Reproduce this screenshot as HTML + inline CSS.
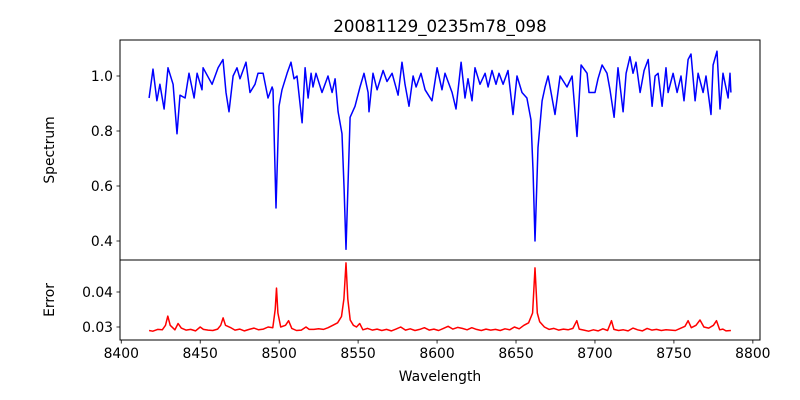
<!DOCTYPE html>
<html><head><meta charset="utf-8"><style>
body{margin:0;background:#fff;}
svg{display:block;font-family:"DejaVu Sans","Liberation Sans",sans-serif;}
</style></head><body>
<svg id="chart" width="800" height="400" viewBox="0 0 800 400">
<rect width="800" height="400" fill="#fff"/>
<text x="440" y="32" text-anchor="middle" font-size="16.7">20081129_0235m78_098</text>
<text transform="translate(54,150) rotate(-90)" text-anchor="middle" font-size="13.9">Spectrum</text>
<text transform="translate(54,300) rotate(-90)" text-anchor="middle" font-size="13.9">Error</text>
<text x="440" y="381" text-anchor="middle" font-size="13.9">Wavelength</text>
<g id="g"></g>
</svg>
<script>
const specWave=[8417.6,8420.1,8422.6,8424.5,8427.1,8429.6,8432.8,8435.3,8437.2,8440.4,8442.9,8446.1,8448.0,8451.1,8451.8,8457.5,8461.3,8464.4,8466.3,8468.2,8470.8,8473.3,8475.2,8479.0,8481.5,8484.7,8486.6,8489.8,8492.9,8495.5,8496.1,8498.0,8499.9,8501.8,8505.0,8507.5,8509.4,8511.3,8514.5,8516.4,8518.3,8520.2,8521.4,8523.3,8527.1,8530.9,8533.5,8535.4,8537.3,8539.8,8541.1,8542.3,8544.9,8548.0,8551.2,8553.7,8556.3,8556.9,8559.4,8562.0,8565.8,8568.3,8571.5,8575.3,8577.8,8579.7,8582.2,8584.8,8586.7,8589.8,8592.4,8596.8,8600.0,8603.1,8605.0,8609.5,8612.0,8615.2,8617.7,8619.6,8622.1,8624.0,8627.2,8630.4,8632.3,8634.8,8637.3,8639.2,8641.8,8644.9,8648.1,8650.6,8653.8,8656.9,8659.5,8660.8,8662.0,8663.9,8666.5,8668.4,8670.3,8674.7,8677.9,8682.3,8685.5,8688.6,8691.2,8695.0,8696.2,8700.0,8701.9,8704.5,8707.6,8709.5,8712.1,8714.6,8717.8,8719.7,8722.2,8724.1,8726.0,8728.6,8731.1,8733.7,8736.2,8738.1,8740.0,8742.5,8745.0,8746.3,8749.5,8752.0,8754.5,8756.4,8759.0,8760.8,8763.4,8765.3,8768.5,8770.3,8773.5,8774.8,8777.3,8779.2,8781.1,8784.3,8785.5,8786.1];
const specFlux=[0.92,1.025,0.91,0.97,0.88,1.03,0.97,0.79,0.93,0.92,1.01,0.92,1.01,0.95,1.03,0.97,1.03,1.06,0.94,0.87,1.0,1.03,0.99,1.05,0.94,0.97,1.01,1.01,0.92,0.96,0.95,0.52,0.89,0.95,1.01,1.05,0.99,1.0,0.83,1.03,0.92,1.01,0.96,1.01,0.94,1.0,0.94,0.99,0.87,0.79,0.59,0.37,0.85,0.89,0.96,1.01,0.94,0.87,1.01,0.95,1.02,0.98,1.01,0.93,1.05,0.97,0.89,1.0,0.96,1.01,0.95,0.91,1.03,0.95,1.01,0.94,0.88,1.05,0.92,0.99,0.91,1.03,0.97,1.01,0.96,1.02,0.97,1.01,0.97,1.02,0.86,1.0,0.94,0.92,0.84,0.65,0.40,0.74,0.91,0.96,1.0,0.86,1.0,0.96,1.0,0.78,1.04,1.01,0.94,0.94,0.99,1.04,1.01,0.95,0.85,1.03,0.87,1.01,1.07,1.01,1.05,0.94,1.02,1.06,0.89,1.0,1.01,0.89,1.03,0.94,1.01,0.94,1.0,0.91,1.06,1.08,0.91,1.01,0.94,1.0,0.86,1.04,1.09,0.88,1.01,0.92,1.01,0.94];
const errWave=[8417.6,8420,8423,8426,8428,8429.5,8431,8434,8436,8438,8441,8444,8447,8450,8452,8455,8458,8461,8463,8464.5,8466,8469,8472,8475,8478,8481,8484,8487,8490,8493,8496,8497.5,8498.3,8499.2,8501,8504,8506,8508,8511,8514,8517,8519,8522,8525,8528,8531,8534,8537,8539.5,8541,8542.3,8543.5,8545,8547,8549,8551,8553,8556,8559,8562,8565,8568,8571,8574,8577,8580,8583,8586,8589,8592,8595,8598,8601,8604,8607,8610,8613,8616,8619,8622,8625,8628,8631,8634,8637,8640,8643,8646,8649,8652,8655,8658,8660.5,8662,8663.5,8665,8668,8671,8674,8677,8680,8683,8686,8688.5,8690,8693,8696,8699,8702,8705,8708,8710.5,8712,8715,8718,8721,8724,8727,8730,8733,8736,8739,8742,8745,8748,8751,8754,8757,8759,8761,8764,8766.5,8769,8772,8775,8777,8779,8781,8783,8786.1];
const errVal=[.0290,.0288,.0293,.0292,.0305,.0331,.0305,.0292,.0310,.0297,.0291,.0293,.0289,.0300,.0293,.0291,.0290,.0294,.0305,.0326,.0305,.0299,.0291,.0294,.0289,.0293,.0297,.0292,.0294,.0300,.0298,.0350,.0411,.0340,.0300,.0305,.0318,.0296,.0290,.0291,.0300,.0293,.0293,.0295,.0293,.0298,.0305,.0312,.0330,.0380,.0483,.0380,.0320,.0305,.0300,.0310,.0292,.0296,.0291,.0294,.0290,.0293,.0289,.0294,.0300,.0291,.0295,.0290,.0293,.0298,.0291,.0294,.0290,.0296,.0302,.0294,.0299,.0296,.0292,.0298,.0293,.0290,.0294,.0291,.0293,.0290,.0295,.0292,.0300,.0295,.0305,.0312,.0340,.0469,.0340,.0315,.0300,.0293,.0296,.0291,.0294,.0292,.0296,.0318,.0294,.0291,.0288,.0292,.0289,.0295,.0290,.0318,.0293,.0290,.0292,.0289,.0297,.0292,.0289,.0296,.0291,.0293,.0290,.0292,.0291,.0290,.0296,.0302,.0318,.0298,.0305,.0320,.0300,.0297,.0305,.0318,.0292,.0294,.0289,.0290];
const xTicks=[8400,8450,8500,8550,8600,8650,8700,8750,8800];
const specTicks=[0.4,0.6,0.8,1.0];
const specTickLabels=["0.4","0.6","0.8","1.0"];
const errTicks=[0.03,0.04];
const errTickLabels=["0.03","0.04"];

const NS="http://www.w3.org/2000/svg";
const g=document.getElementById('g');
const L=120,R=760,T1=40,B1=260,T2=260,B2=340;
const xmin=8399.2,xmax=8399.2+640/1.579;
const X=w=>L+(w-xmin)/(xmax-xmin)*(R-L);
const Y1=f=>76+(1.0-f)*275;
const Y2=e=>327-(e-0.03)*3500;
function mk(t,a){const e=document.createElementNS(NS,t);for(const k in a)e.setAttribute(k,a[k]);g.appendChild(e);return e;}

const p1=specWave.map((w,i)=>X(w).toFixed(1)+','+Y1(specFlux[i]).toFixed(1)).join(' ');
const s1=mk('polyline',{points:p1,fill:'none',stroke:'#0000ff','stroke-width':1.5,'stroke-linejoin':'round'});


const p2=errWave.map((w,i)=>X(w).toFixed(1)+','+Y2(errVal[i]).toFixed(1)).join(' ');
const s2=mk('polyline',{points:p2,fill:'none',stroke:'#ff0000','stroke-width':1.5,'stroke-linejoin':'round'});



const f1=mk('rect',{x:L,y:T1,width:R-L,height:B1-T1,fill:'none',stroke:'#000','stroke-width':1});


const f2=mk('rect',{x:L,y:T2,width:R-L,height:B2-T2,fill:'none',stroke:'#000','stroke-width':1});



xTicks.forEach(v=>{
  const x=X(v);
  const t=mk('line',{x1:x,x2:x,y1:B2,y2:B2+3.5,stroke:'#000','stroke-width':0.8});
  
  
  const l=mk('text',{x:x,y:B2+18,'text-anchor':'middle','font-size':13.9});
  l.textContent=v;
  
  
});
specTicks.forEach((v,i)=>{
  const y=Y1(v);
  const t=mk('line',{x1:L-3.5,x2:L,y1:y,y2:y,stroke:'#000','stroke-width':0.8});
  
  
  const l=mk('text',{x:L-7,y:y+5,'text-anchor':'end','font-size':13.9});
  l.textContent=specTickLabels[i];
  
  
});
errTicks.forEach((v,i)=>{
  const y=Y2(v);
  const t=mk('line',{x1:L-3.5,x2:L,y1:y,y2:y,stroke:'#000','stroke-width':0.8});
  
  
  const l=mk('text',{x:L-7,y:y+5,'text-anchor':'end','font-size':13.9});
  l.textContent=errTickLabels[i];
  
  
});
</script>
</body></html>
